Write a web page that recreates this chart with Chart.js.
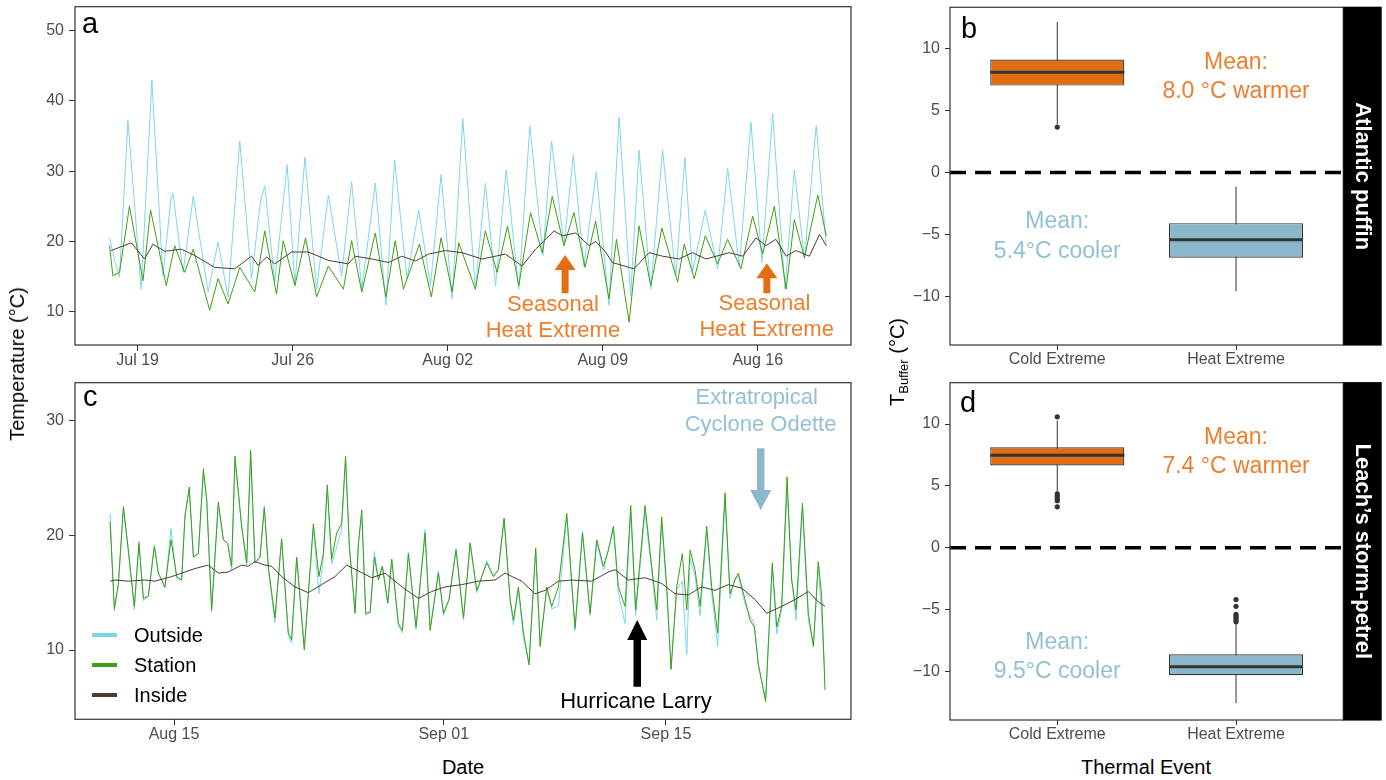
<!DOCTYPE html>
<html>
<head>
<meta charset="utf-8">
<title>Burrow temperatures and thermal buffering</title>
<script src="https://cdn.jsdelivr.net/npm/chart.js@4.4.1/dist/chart.umd.min.js"></script>
<style>
  html, body { margin: 0; padding: 0; background: #fff; }
  body { position: relative; width: 1386px; height: 780px; overflow: hidden;
         font-family: "Liberation Sans", Arial, sans-serif; color: #000; }
  canvas { position: absolute; }
  .txt { position: absolute; white-space: nowrap; line-height: 1; }
  .title { font-size: 20px; transform: translate(-50%, -50%); }
  .vtitle { font-size: 20px; transform: translate(-50%, -50%) rotate(-90deg); }
  .vtitle sub { font-size: 13px; vertical-align: -4px; line-height: 0; }
  .tag { font-size: 29px; }
  .key { position: absolute; width: 25px; height: 3.5px; }
  .keytxt { position: absolute; font-size: 20px; line-height: 20px; }
</style>
</head>
<body>
<canvas id="panelA" width="862" height="375" style="left:0;top:0"></canvas>
<canvas id="panelC" width="862" height="375" style="left:0;top:375px"></canvas>
<canvas id="panelB" width="506" height="375" style="left:880px;top:0"></canvas>
<canvas id="panelD" width="506" height="375" style="left:880px;top:375px"></canvas>

<div class="txt tag" style="left:82px;top:9px">a</div>
<div class="txt tag" style="left:83px;top:382px">c</div>
<div class="txt tag" style="left:961px;top:14px">b</div>
<div class="txt tag" style="left:960px;top:388px">d</div>

<div class="txt vtitle" style="left:17px;top:364px">Temperature (°C)</div>
<div class="txt title" style="left:463px;top:767px">Date</div>
<div class="txt vtitle" style="left:897px;top:362px">T<sub>Buffer</sub> (°C)</div>
<div class="txt title" style="left:1146px;top:767px">Thermal Event</div>

<div class="key" style="left:92px;top:633px;background:#7CD6EA"></div>
<div class="keytxt" style="left:134px;top:625px">Outside</div>
<div class="key" style="left:92px;top:663px;background:#3E9F12"></div>
<div class="keytxt" style="left:134px;top:655px">Station</div>
<div class="key" style="left:92px;top:693px;background:#4E3B36"></div>
<div class="keytxt" style="left:134px;top:685px">Inside</div>

<script>
// ==============================
// DATA (x = day of year 2021)
// ==============================

// panel a - Atlantic puffin
const aOutsideDays = [198.73, 198.95, 199.18, 199.56, 200.16, 200.64, 201.14, 201.50, 201.59, 202.05, 202.51, 203.18, 203.63, 204.08, 204.61, 205.14, 205.55, 205.74, 206.19, 206.75, 207.10, 207.55, 208.08, 208.61, 209.21, 209.66, 210.12, 210.73, 211.21, 211.60, 212.16, 212.69, 213.22, 213.70, 214.20, 214.68, 215.25, 215.70, 216.16, 216.64, 217.21, 217.71, 218.30, 218.69, 219.25, 219.67, 220.15, 220.71, 221.28, 221.74, 222.26, 222.64, 223.17, 223.70, 224.30, 224.71, 225.05, 225.63, 226.19, 226.64, 227.17, 227.69, 228.19, 228.67, 229.23, 229.65, 230.11, 230.64, 231.09];
const aOutsideTemp = [20.5, 17.5, 14.9, 37.2, 13.2, 42.9, 15.1, 26.0, 26.9, 15.6, 26.4, 12.8, 19.9, 12.1, 34.3, 14.7, 25.8, 27.9, 14.2, 30.9, 13.7, 32.0, 13.2, 26.6, 15.1, 28.5, 13.2, 28.3, 10.9, 31.6, 14.7, 24.5, 13.7, 29.5, 11.8, 37.5, 13.2, 28.3, 13.7, 30.2, 13.2, 36.4, 18.0, 34.3, 19.4, 32.3, 16.5, 29.9, 10.9, 37.7, 12.3, 33.0, 13.2, 33.0, 15.1, 32.0, 15.6, 24.5, 16.1, 30.4, 16.5, 37.0, 17.0, 38.2, 13.2, 30.2, 17.5, 36.5, 19.4];

const aStationDays = [198.73, 198.88, 199.18, 199.63, 200.24, 200.58, 201.29, 201.67, 202.12, 202.51, 203.25, 203.63, 204.08, 204.61, 205.29, 205.74, 206.27, 206.57, 207.10, 207.58, 208.08, 208.61, 209.29, 209.66, 210.12, 210.73, 211.21, 211.63, 212.00, 212.72, 213.26, 213.70, 214.20, 214.50, 215.25, 215.70, 216.23, 216.70, 217.21, 217.74, 218.27, 218.72, 219.25, 219.70, 220.20, 220.68, 221.28, 221.62, 222.19, 222.64, 223.17, 223.67, 224.38, 224.68, 225.13, 225.63, 226.19, 226.64, 227.24, 227.77, 228.22, 228.75, 229.28, 229.65, 230.11, 230.71, 231.09];
const aStationTemp = [19.4, 15.1, 15.6, 25.0, 14.4, 24.5, 13.7, 19.4, 15.6, 18.9, 10.2, 14.7, 11.1, 16.3, 12.8, 21.5, 12.5, 20.1, 13.7, 20.5, 12.1, 16.5, 13.2, 20.1, 12.8, 21.2, 12.1, 20.1, 13.2, 19.6, 12.1, 20.5, 12.8, 19.8, 13.2, 21.5, 15.6, 22.2, 13.7, 24.1, 18.4, 26.4, 19.4, 24.1, 16.3, 22.9, 11.8, 20.3, 8.5, 22.2, 13.7, 21.9, 14.2, 19.6, 14.7, 20.8, 16.8, 20.3, 16.1, 23.6, 18.2, 25.0, 13.2, 23.1, 17.7, 26.6, 20.8];

const aInsideDays = [198.80, 199.71, 200.31, 200.69, 201.22, 201.97, 202.57, 203.48, 204.38, 205.14, 205.44, 205.82, 206.19, 206.95, 207.70, 208.61, 209.51, 209.82, 210.58, 211.33, 211.93, 212.54, 213.14, 213.90, 214.65, 215.55, 216.61, 217.36, 217.97, 218.80, 219.17, 219.78, 220.38, 220.68, 221.13, 221.43, 222.41, 223.09, 223.70, 224.45, 225.05, 225.66, 226.71, 227.32, 227.92, 228.37, 228.82, 229.28, 229.73, 230.33, 230.79, 231.09];
const aInsideTemp = [18.7, 19.8, 17.5, 19.6, 18.6, 18.9, 18.0, 16.3, 16.1, 17.9, 16.6, 17.8, 16.8, 18.5, 18.5, 17.3, 16.8, 17.9, 17.5, 17.0, 17.9, 17.2, 18.2, 18.7, 18.4, 17.5, 18.2, 16.5, 18.9, 21.5, 20.8, 21.2, 19.4, 20.0, 18.5, 17.0, 16.1, 18.4, 17.9, 17.5, 18.4, 17.5, 18.4, 17.9, 20.5, 19.4, 20.3, 17.9, 18.7, 17.9, 21.0, 19.4];

const aTickDays = [200, 207, 214, 221, 228];
const aTickLabels = ['Jul 19', 'Jul 26', 'Aug 02', 'Aug 09', 'Aug 16'];
const aTempTicks = [10, 20, 30, 40, 50];

// panel c - Leach's storm-petrel (Outside and Station share the time stamps)
const cDays = [222.97, 223.24, 223.49, 223.81, 224.12, 224.50, 224.79, 225.07, 225.38, 225.76, 226.01, 226.43, 226.81, 227.17, 227.48, 227.69, 227.96, 228.22, 228.53, 228.85, 229.06, 229.37, 229.79, 230.11, 230.38, 230.63, 230.84, 231.26, 231.58, 231.83, 232.10, 232.42, 232.69, 232.94, 233.36, 233.78, 234.20, 234.41, 234.73, 235.21, 235.78, 236.13, 236.41, 236.66, 236.93, 237.25, 237.56, 237.81, 238.05, 238.41, 238.62, 238.83, 239.08, 239.36, 239.63, 239.88, 240.13, 240.47, 240.72, 241.14, 241.39, 241.77, 242.25, 242.82, 243.14, 243.66, 243.98, 244.33, 244.77, 245.24, 245.66, 246.08, 246.71, 247.13, 247.44, 247.80, 248.18, 248.39, 248.70, 249.02, 249.37, 249.79, 250.07, 250.49, 250.80, 251.22, 251.75, 252.27, 252.74, 253.22, 253.64, 254.06, 254.37, 254.69, 255.00, 255.42, 255.78, 256.09, 256.68, 257.10, 257.42, 257.73, 258.05, 258.32, 258.68, 259.03, 259.31, 259.52, 259.83, 260.15, 260.57, 260.88, 261.26, 261.72, 262.04, 262.35, 262.56, 262.98, 263.30, 263.57, 263.82, 264.28, 264.70, 264.98, 265.29, 265.63, 265.92, 266.20, 266.60, 266.97, 267.29, 267.60, 267.81, 268.02];
const cStationTemp = [21.2, 13.6, 15.7, 22.5, 18.7, 13.8, 19.3, 14.5, 14.7, 19.0, 16.7, 15.5, 19.6, 16.4, 16.1, 21.6, 24.2, 18.1, 18.4, 25.8, 23.1, 13.5, 22.9, 19.6, 19.3, 17.3, 26.9, 20.8, 17.6, 27.4, 17.6, 18.1, 22.4, 17.3, 12.8, 19.7, 11.5, 10.9, 18.1, 10.0, 21.0, 16.4, 18.4, 24.4, 17.9, 20.2, 21.0, 26.9, 19.0, 13.2, 19.3, 22.2, 13.2, 13.3, 18.1, 16.1, 17.3, 14.1, 17.9, 12.3, 11.7, 18.4, 12.0, 20.2, 11.7, 16.7, 13.2, 14.4, 18.7, 12.8, 19.3, 15.2, 17.6, 16.4, 17.0, 21.5, 14.4, 12.6, 15.5, 11.5, 8.7, 18.9, 10.3, 15.5, 13.8, 15.5, 21.9, 11.9, 20.2, 13.2, 19.6, 17.3, 18.7, 20.8, 15.5, 13.8, 22.6, 13.5, 22.6, 17.3, 13.5, 21.6, 15.5, 8.3, 15.5, 18.4, 13.5, 18.7, 17.0, 13.8, 20.8, 15.5, 11.5, 23.7, 14.9, 16.1, 16.7, 14.4, 12.6, 12.0, 8.8, 5.5, 17.6, 12.0, 13.8, 25.1, 16.1, 13.5, 22.8, 13.2, 10.3, 17.7, 14.7, 6.5];
const cOutsideTemp = [21.9, 13.4, 15.7, 22.3, 18.7, 13.5, 19.5, 14.3, 14.7, 19.2, 16.7, 15.4, 20.6, 16.2, 16.1, 21.9, 24.0, 18.1, 18.4, 25.3, 23.1, 13.3, 22.6, 19.6, 19.3, 17.0, 26.4, 20.8, 17.4, 27.0, 17.6, 18.1, 22.6, 17.0, 12.4, 19.7, 11.3, 10.6, 18.1, 10.2, 20.6, 14.9, 18.0, 24.0, 17.5, 19.0, 20.5, 26.6, 19.0, 13.4, 19.3, 21.8, 13.0, 13.3, 18.6, 16.1, 17.3, 14.0, 17.9, 12.1, 11.5, 18.5, 11.8, 20.5, 11.9, 16.9, 13.0, 14.4, 18.9, 12.6, 19.4, 15.0, 17.8, 16.4, 17.0, 21.3, 14.2, 12.2, 15.3, 11.0, 8.9, 18.7, 10.6, 15.3, 13.6, 13.8, 21.6, 11.7, 20.4, 13.0, 19.4, 17.0, 18.7, 20.5, 15.0, 12.3, 22.0, 13.0, 22.0, 17.0, 12.6, 21.0, 15.2, 8.4, 15.3, 16.0, 9.6, 18.0, 16.5, 13.0, 20.3, 15.0, 10.3, 23.2, 14.5, 16.3, 16.4, 14.0, 13.0, 12.3, 8.6, 5.8, 17.2, 11.4, 13.5, 24.0, 16.3, 12.6, 22.3, 12.6, 10.5, 17.5, 13.0, 7.8];

const cInsideDays = [222.97, 223.28, 224.12, 225.17, 225.80, 226.85, 227.48, 228.32, 229.16, 229.79, 230.42, 231.26, 231.68, 232.10, 232.73, 233.15, 233.78, 234.62, 235.46, 236.30, 237.14, 237.88, 239.46, 240.30, 241.46, 242.40, 243.24, 244.08, 245.13, 246.18, 247.23, 247.86, 248.91, 249.75, 250.38, 251.22, 252.06, 253.32, 254.37, 254.79, 255.63, 256.68, 257.73, 258.57, 259.41, 260.25, 261.09, 261.93, 262.77, 263.61, 264.35, 265.29, 266.13, 266.97, 267.60, 268.02];
const cInsideTemp = [16.0, 16.1, 16.0, 16.1, 16.0, 16.4, 16.7, 17.1, 17.4, 16.7, 16.8, 17.4, 17.3, 17.7, 17.4, 17.3, 16.4, 15.5, 15.0, 15.7, 16.4, 17.4, 16.3, 16.7, 15.4, 14.5, 15.1, 15.5, 15.7, 16.0, 16.1, 16.7, 16.0, 14.9, 15.2, 16.0, 16.1, 16.0, 16.8, 17.0, 16.1, 16.3, 15.8, 14.9, 14.8, 15.5, 15.2, 15.7, 15.4, 14.4, 13.2, 13.8, 14.4, 15.1, 14.2, 13.8];

const cTickDays = [227, 244, 258];
const cTickLabels = ['Aug 15', 'Sep 01', 'Sep 15'];
const cTempTicks = [10, 20, 30];

// panels b / d - buffering boxplots
const eventNames = ['Cold Extreme', 'Heat Extreme'];
const eventPos = [1, 2];
const bufferTicks = [-10, -5, 0, 5, 10];

const puffinLow = [3.9, -9.6];
const puffinQ1 = [7.02, -6.89];
const puffinMedian = [8.1, -5.45];
const puffinQ3 = [9.13, -4.1];
const puffinHigh = [12.16, -1.13];
const puffinOutliers = [[3.67], []];

const petrelLow = [4.5, -12.6];
const petrelQ1 = [6.65, -10.33];
const petrelMedian = [7.48, -9.65];
const petrelQ3 = [8.13, -8.63];
const petrelHigh = [10.3, -6.1];
const petrelOutliers = [[10.59, 4.35, 4.15, 3.95, 3.8, 3.3], [-4.2, -4.75, -5.4, -5.55, -5.7, -5.85, -6.0]];

// ==============================
// STYLE
// ==============================
const INK = '#333333';
const TICK_TXT = '#4D4D4D';
const CYAN = '#7CD6EA';
const GREEN = '#3E9F12';
const BROWN = '#4E3B36';
const BOX_FILL = ['#E06D10', '#8BB7CB'];
const ORANGE_TXT = '#EE7D2C';
const ORANGE_ARROW = '#E36F12';
const BLUE_TXT = '#92C0D5';
const BLUE_ARROW = '#8DB7CB';
const FONT = '"Liberation Sans", Arial, sans-serif';

Chart.defaults.font.family = FONT;

const pairs = (days, temps) => days.map((d, i) => ({ x: d, y: temps[i] }));
const signed = v => (v < 0 ? '\u2212' + Math.abs(v) : String(v));

// fixed-size axis; label overflow padding is dropped so the plot box stays where it should
function axis(min, max, values, label, size, tickLength, padding) {
    return {
        type: 'linear', min, max, offset: false,
        afterBuildTicks: s => { s.ticks = values.map(v => ({ value: v })); },
        afterFit: s => {
            if (s.isHorizontal()) {
                s.height = size;
            } else {
                s.width = size;
                s.paddingTop = 0;
                s.paddingBottom = 0;
            }
        },
        ticks: { callback: (v, i) => label(v, i), color: TICK_TXT, font: { size: 16 },
                 padding, autoSkip: false, maxRotation: 0 },
        grid: { display: true, drawOnChartArea: false, drawTicks: true, tickLength,
                color: INK, offset: false },
        border: { display: false }
    };
}

function seriesLine(label, days, temps, color, order) {
    return { label, data: pairs(days, temps), borderColor: color, borderWidth: 1,
             pointRadius: 0, tension: 0, fill: false, order, borderJoinStyle: 'round' };
}

function baseOptions(padding) {
    return {
        responsive: false, animation: false, devicePixelRatio: 1, events: [],
        layout: { padding },
        plugins: { legend: { display: false }, tooltip: { enabled: false } }
    };
}

function drawArrow(ctx, px, yBase, yTip, a) {
    const dir = Math.sign(yTip - yBase);
    const neck = yTip - dir * a.head;
    ctx.fillStyle = a.color;
    ctx.beginPath();
    ctx.moveTo(px - a.shaft / 2, yBase);
    ctx.lineTo(px - a.shaft / 2, neck);
    ctx.lineTo(px - a.wing / 2, neck);
    ctx.lineTo(px, yTip);
    ctx.lineTo(px + a.wing / 2, neck);
    ctx.lineTo(px + a.shaft / 2, neck);
    ctx.lineTo(px + a.shaft / 2, yBase);
    ctx.closePath();
    ctx.fill();
}

// frame, strip, reference line, medians, arrows, notes
function decor(cfg) {
    return {
        id: 'decor',
        afterDatasetsDraw(chart) {
            const { ctx, chartArea: ca, scales } = chart;
            const sx = scales.x, sy = scales.y;
            ctx.save();
            if (cfg.refLine !== undefined) {
                const py = sy.getPixelForValue(cfg.refLine);
                ctx.strokeStyle = '#000';
                ctx.lineWidth = 3.5;
                ctx.setLineDash([16, 9]);
                ctx.beginPath();
                ctx.moveTo(ca.left, py);
                ctx.lineTo(ca.right, py);
                ctx.stroke();
                ctx.setLineDash([]);
            }
            if (cfg.medians) {
                const meta = chart.getDatasetMeta(cfg.boxIndex);
                ctx.strokeStyle = INK;
                ctx.lineWidth = 3;
                meta.data.forEach((bar, i) => {
                    const { x, width } = bar.getProps(['x', 'width'], true);
                    const py = sy.getPixelForValue(cfg.medians[i]);
                    ctx.beginPath();
                    ctx.moveTo(x - width / 2, py);
                    ctx.lineTo(x + width / 2, py);
                    ctx.stroke();
                });
            }
            (cfg.arrows || []).forEach(a => {
                drawArrow(ctx, sx.getPixelForValue(a.x), sy.getPixelForValue(a.from),
                          sy.getPixelForValue(a.to), a);
            });
            ctx.textAlign = 'center';
            ctx.textBaseline = 'middle';
            (cfg.notes || []).forEach(n => {
                ctx.font = n.size + 'px ' + FONT;
                ctx.fillStyle = n.color;
                ctx.fillText(n.text, sx.getPixelForValue(n.x), sy.getPixelForValue(n.y));
            });
            ctx.restore();
        },
        afterDraw(chart) {
            const { ctx, chartArea: ca } = chart;
            ctx.save();
            ctx.strokeStyle = INK;
            ctx.lineWidth = 1.2;
            ctx.strokeRect(ca.left, ca.top, ca.width, ca.height);
            if (cfg.strip) {
                const w = 38.4;
                ctx.fillStyle = '#000';
                ctx.fillRect(ca.right, ca.top - 0.6, w, ca.height + 1.2);
                ctx.translate(ca.right + w / 2, (ca.top + ca.bottom) / 2);
                ctx.rotate(Math.PI / 2);
                ctx.fillStyle = '#fff';
                ctx.font = 'bold 22px ' + FONT;
                ctx.textAlign = 'center';
                ctx.textBaseline = 'middle';
                ctx.fillText(cfg.strip, 0, 0);
            }
            ctx.restore();
        }
    };
}

// ==============================
// PANEL A - time series
// ==============================
new Chart(document.getElementById('panelA'), {
    type: 'line',
    data: { datasets: [
        seriesLine('Outside', aOutsideDays, aOutsideTemp, CYAN, 3),
        seriesLine('Station', aStationDays, aStationTemp, GREEN, 2),
        seriesLine('Inside', aInsideDays, aInsideTemp, BROWN, 1)
    ] },
    options: Object.assign(baseOptions({ left: 0, top: 6.7, right: 11, bottom: 0 }), {
        scales: {
            x: axis(197.17, 232.21, aTickDays, (v, i) => aTickLabels[i], 30, 6, 0),
            y: axis(5.26, 53.4, aTempTicks, v => String(v), 75, 6, 5)
        }
    }),
    plugins: [decor({
        arrows: [
            { x: 219.3, from: 12.62, to: 18.07, color: ORANGE_ARROW, shaft: 7, wing: 21, head: 15 },
            { x: 228.41, from: 12.62, to: 16.89, color: ORANGE_ARROW, shaft: 7, wing: 21, head: 15 }
        ],
        notes: [
            { x: 218.75, y: 10.95, text: 'Seasonal', color: ORANGE_TXT, size: 22 },
            { x: 218.75, y: 7.2, text: 'Heat Extreme', color: ORANGE_TXT, size: 22 },
            { x: 228.3, y: 11.1, text: 'Seasonal', color: ORANGE_TXT, size: 22 },
            { x: 228.4, y: 7.35, text: 'Heat Extreme', color: ORANGE_TXT, size: 22 }
        ]
    })]
});

// ==============================
// PANEL C - time series
// ==============================
new Chart(document.getElementById('panelC'), {
    type: 'line',
    data: { datasets: [
        seriesLine('Outside', cDays, cOutsideTemp, CYAN, 3),
        seriesLine('Station', cDays, cStationTemp, GREEN, 2),
        seriesLine('Inside', cInsideDays, cInsideTemp, BROWN, 1)
    ] },
    options: Object.assign(baseOptions({ left: 0, top: 7.7, right: 11, bottom: 0.7 }), {
        scales: {
            x: axis(220.76, 269.66, cTickDays, (v, i) => cTickLabels[i], 30, 6, 0),
            y: axis(3.96, 33.3, cTempTicks, v => String(v), 75, 6, 5)
        }
    }),
    plugins: [decor({
        arrows: [
            { x: 256.19, from: 6.8, to: 12.62, color: '#000', shaft: 7.5, wing: 20, head: 20 },
            { x: 263.97, from: 27.59, to: 22.21, color: BLUE_ARROW, shaft: 7.5, wing: 21, head: 20 }
        ],
        notes: [
            { x: 256.11, y: 5.49, text: 'Hurricane Larry', color: '#000', size: 22 },
            { x: 263.72, y: 31.94, text: 'Extratropical', color: BLUE_TXT, size: 22 },
            { x: 263.96, y: 29.62, text: 'Cyclone Odette', color: BLUE_TXT, size: 22 }
        ]
    })]
});

// ==============================
// PANELS B / D - boxplots
// ==============================
function boxChart(id, low, q1, median, q3, high, outliers, topPad, strip, notes) {
    return new Chart(document.getElementById(id), {
        type: 'bar',
        data: { datasets: [
            { type: 'bar', label: 'whisker', grouped: false, order: 3,
              data: eventPos.map((p, i) => ({ x: p, y: [low[i], high[i]] })),
              backgroundColor: INK, maxBarThickness: 1 },
            { type: 'bar', label: 'box', grouped: false, order: 2,
              data: eventPos.map((p, i) => ({ x: p, y: [q1[i], q3[i]] })),
              backgroundColor: BOX_FILL, borderColor: INK, borderWidth: 1.2, borderSkipped: false,
              barPercentage: 0.75, categoryPercentage: 1 },
            { type: 'scatter', label: 'outlier', order: 1,
              data: outliers.flatMap((arr, i) => arr.map(v => ({ x: eventPos[i], y: v }))),
              pointRadius: 2.6, pointBackgroundColor: INK, pointBorderWidth: 0 }
        ] },
        options: Object.assign(baseOptions({ left: 0, top: topPad, right: 42.7, bottom: 0 }), {
            scales: {
                x: axis(0.4, 2.6, eventPos, (v, i) => eventNames[i], 30, 5, 0),
                y: axis(-13.95, 13.35, bufferTicks, signed, 70, 5, 5)
            }
        }),
        plugins: [decor({ refLine: 0, boxIndex: 1, medians: median, strip, notes })]
    });
}

boxChart('panelB', puffinLow, puffinQ1, puffinMedian, puffinQ3, puffinHigh, puffinOutliers, 7.3,
    'Atlantic puffin', [
        { x: 2, y: 8.9, text: 'Mean:', color: ORANGE_TXT, size: 23 },
        { x: 2, y: 6.55, text: '8.0 \u00B0C warmer', color: ORANGE_TXT, size: 23 },
        { x: 1, y: -3.97, text: 'Mean:', color: BLUE_TXT, size: 23 },
        { x: 1, y: -6.4, text: '5.4\u00B0C cooler', color: BLUE_TXT, size: 23 }
    ]);

boxChart('panelD', petrelLow, petrelQ1, petrelMedian, petrelQ3, petrelHigh, petrelOutliers, 7.7,
    'Leach\u2019s storm-petrel', [
        { x: 2, y: 8.92, text: 'Mean:', color: ORANGE_TXT, size: 23 },
        { x: 2, y: 6.55, text: '7.4 \u00B0C warmer', color: ORANGE_TXT, size: 23 },
        { x: 1, y: -7.69, text: 'Mean:', color: BLUE_TXT, size: 23 },
        { x: 1, y: -10.04, text: '9.5\u00B0C cooler', color: BLUE_TXT, size: 23 }
    ]);
</script>
</body>
</html>
